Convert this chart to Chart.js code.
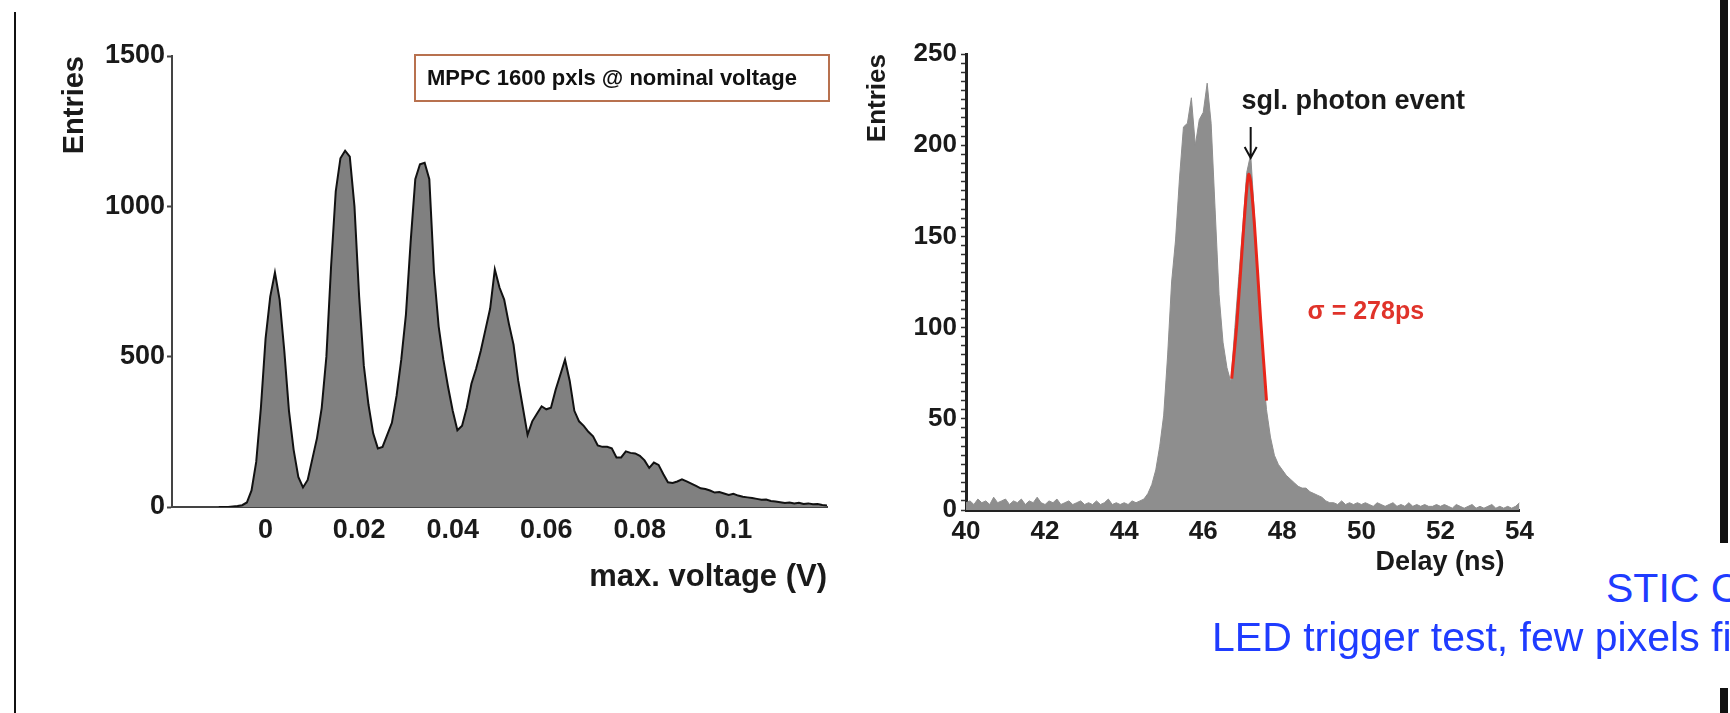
<!DOCTYPE html>
<html>
<head>
<meta charset="utf-8">
<script src="https://cdn.jsdelivr.net/npm/chart.js@4.4.1/dist/chart.umd.min.js"></script>
<style>
  html, body { margin: 0; padding: 0; width: 1730px; height: 713px; overflow: hidden; background: #fff; }
  #volt { position: absolute; left: 40px; top: 30px; }
  #delay { position: absolute; left: 860px; top: 20px; }
  .frame { position: absolute; background: #111; }
  .caption {
    position: absolute; color: #1f3cff; white-space: nowrap;
    font-family: "Liberation Sans", Arial, sans-serif; font-weight: 300;
    font-size: 41px; line-height: 48px;
  }
</style>
</head>
<body>
<div class="frame" style="left:14px; top:12px; width:2px; height:701px;"></div>
<div class="frame" style="left:1720px; top:0; width:8px; height:543px;"></div>
<div class="frame" style="left:1720px; top:688px; width:8px; height:25px;"></div>

<canvas id="volt" width="800" height="590"></canvas>
<canvas id="delay" width="680" height="600"></canvas>

<div class="caption" style="left:1606px; top:564px;">STIC C</div>
<div class="caption" style="left:1212px; top:613px;">LED trigger test, few pixels fi</div>

<script>
// --- left panel: MPPC amplitude spectrum ---
const VOLTAGE = [
  -0.010, -0.009, -0.008, -0.007, -0.006, -0.005, -0.004, -0.003, -0.002, -0.001,
  0.000, 0.001, 0.002, 0.003, 0.004, 0.005, 0.006, 0.007, 0.008, 0.009,
  0.010, 0.011, 0.012, 0.013, 0.014, 0.015, 0.016, 0.017, 0.018, 0.019,
  0.020, 0.021, 0.022, 0.023, 0.024, 0.025, 0.026, 0.027, 0.028, 0.029,
  0.030, 0.031, 0.032, 0.033, 0.034, 0.035, 0.036, 0.037, 0.038, 0.039,
  0.040, 0.041, 0.042, 0.043, 0.044, 0.045, 0.046, 0.047, 0.048, 0.049,
  0.050, 0.051, 0.052, 0.053, 0.054, 0.055, 0.056, 0.057, 0.058, 0.059,
  0.060, 0.061, 0.062, 0.063, 0.064, 0.065, 0.066, 0.067, 0.068, 0.069,
  0.070, 0.071, 0.072, 0.073, 0.074, 0.075, 0.076, 0.077, 0.078, 0.079,
  0.080, 0.081, 0.082, 0.083, 0.084, 0.085, 0.086, 0.087, 0.088, 0.089,
  0.090, 0.091, 0.092, 0.093, 0.094, 0.095, 0.096, 0.097, 0.098, 0.099,
  0.100, 0.101, 0.102, 0.103, 0.104, 0.105, 0.106, 0.107, 0.108, 0.109,
  0.110, 0.111, 0.112, 0.113, 0.114, 0.115, 0.116, 0.117, 0.118, 0.119, 0.120
]
const VOLT_ENTRIES = [
  0, 0, 0, 2, 3, 6, 15, 55, 150, 330,
  560, 700, 780, 690, 520, 320, 190, 100, 65, 90,
  160, 230, 330, 500, 800, 1050, 1160, 1185, 1165, 1000,
  700, 470, 340, 245, 195, 200, 240, 280, 370, 490,
  640, 880, 1090, 1140, 1145, 1090, 780, 600, 490, 400,
  320, 255, 270, 330, 410, 460, 520, 590, 660, 790,
  730, 690, 610, 540, 420, 330, 240, 285, 310, 335,
  325, 330, 390, 440, 490, 420, 320, 285, 270, 250,
  235, 205, 200, 200, 195, 165, 165, 185, 180, 178,
  170, 155, 130, 148, 140, 110, 82, 80, 85, 92,
  85, 78, 70, 62, 60, 55, 48, 50, 45, 40,
  44, 38, 34, 32, 30, 27, 24, 25, 20, 18,
  16, 13, 15, 12, 14, 10, 12, 9, 10, 7, 5
]
const VOLT_X_TICKS = [0, 0.02, 0.04, 0.06, 0.08, 0.1]
const VOLT_Y_TICKS = [0, 500, 1000, 1500]
const VOLT_NOTE = "MPPC 1600 pxls @ nominal voltage"

// --- right panel: delay distribution with single-photon fit ---
const DELAY = [
  40.0, 40.1, 40.2, 40.3, 40.4, 40.5, 40.6, 40.7, 40.8, 40.9,
  41.0, 41.1, 41.2, 41.3, 41.4, 41.5, 41.6, 41.7, 41.8, 41.9,
  42.0, 42.1, 42.2, 42.3, 42.4, 42.5, 42.6, 42.7, 42.8, 42.9,
  43.0, 43.1, 43.2, 43.3, 43.4, 43.5, 43.6, 43.7, 43.8, 43.9,
  44.0, 44.1, 44.2, 44.3, 44.4, 44.5, 44.6, 44.7, 44.8, 44.9,
  45.0, 45.1, 45.2, 45.3, 45.4, 45.5, 45.6, 45.7, 45.8, 45.9,
  46.0, 46.1, 46.2, 46.3, 46.4, 46.5, 46.6, 46.7, 46.8, 46.9,
  47.0, 47.1, 47.2, 47.3, 47.4, 47.5, 47.6, 47.7, 47.8, 47.9,
  48.0, 48.1, 48.2, 48.3, 48.4, 48.5, 48.6, 48.7, 48.8, 48.9,
  49.0, 49.1, 49.2, 49.3, 49.4, 49.5, 49.6, 49.7, 49.8, 49.9,
  50.0, 50.1, 50.2, 50.3, 50.4, 50.5, 50.6, 50.7, 50.8, 50.9,
  51.0, 51.1, 51.2, 51.3, 51.4, 51.5, 51.6, 51.7, 51.8, 51.9,
  52.0, 52.1, 52.2, 52.3, 52.4, 52.5, 52.6, 52.7, 52.8, 52.9,
  53.0, 53.1, 53.2, 53.3, 53.4, 53.5, 53.6, 53.7, 53.8, 53.9, 54.0
]
const DELAY_ENTRIES = [
  4, 5, 3, 6, 4, 5, 3, 7, 4, 5,
  6, 3, 5, 4, 6, 3, 5, 4, 7, 4,
  3, 5, 4, 6, 3, 4, 5, 3, 4, 5,
  3, 4, 3, 5, 3, 4, 6, 3, 4, 3,
  4, 3, 5, 4, 5, 6, 9, 14, 22, 35,
  52, 85, 125, 148, 182, 210, 212, 226, 200, 214,
  218, 234, 212, 165, 118, 92, 78, 70, 100, 128,
  155, 185, 195, 160, 118, 80, 55, 40, 30, 25,
  22, 19, 17, 15, 13, 12, 12, 10, 9, 8,
  7, 5, 4, 4, 3, 5, 3, 4, 3, 4,
  3, 4, 3, 2, 4, 3, 2, 3, 4, 2,
  3, 2, 4, 2, 3, 2, 3, 2, 2, 3,
  2, 3, 2, 1, 3, 2, 1, 2, 3, 1,
  2, 1, 2, 3, 1, 2, 1, 2, 1, 2, 4
]
const FIT_DELAY = [46.72, 46.85, 47.0, 47.1, 47.15, 47.2, 47.3, 47.45, 47.6]
const FIT_ENTRIES = [72, 102, 148, 176, 184, 180, 155, 105, 60]
const DELAY_X_TICKS = [40, 42, 44, 46, 48, 50, 52, 54]
const DELAY_Y_LABELS = [0, 50, 100, 150, 200, 250]
const PHOTON_LABEL = "sgl. photon event"
const SIGMA_LABEL = "\u03c3 = 278ps"

const FONT = '"Liberation Sans", Arial, Helvetica, sans-serif'

function pts(xs, ys) {
  return xs.map((x, i) => ({ x, y: ys[i] }))
}

const voltNote = {
  id: "voltNote",
  afterDraw(chart) {
    const { ctx, chartArea } = chart
    const w = 414
    const h = 46
    const x = chartArea.right + 2 - w
    const y = chartArea.top - 1
    ctx.save()
    ctx.fillStyle = "#fff"
    ctx.fillRect(x, y, w, h)
    ctx.strokeStyle = "#b8714f"
    ctx.lineWidth = 2
    ctx.strokeRect(x, y, w, h)
    ctx.fillStyle = "#111"
    ctx.font = "bold 22px " + FONT
    ctx.textBaseline = "middle"
    ctx.fillText(VOLT_NOTE, x + 12, y + h / 2 + 1)
    ctx.restore()
  },
}

const delayNote = {
  id: "delayNote",
  afterDatasetsDraw(chart) {
    const { ctx } = chart
    const { x, y } = chart.scales
    ctx.save()
    ctx.textBaseline = "middle"
    ctx.fillStyle = "#1a1a1a"
    ctx.font = "bold 27px " + FONT
    ctx.fillText(PHOTON_LABEL, x.getPixelForValue(46.97), y.getPixelForValue(224))

    // arrow pointing at the second peak
    const ax = x.getPixelForValue(47.2)
    const y0 = y.getPixelForValue(210)
    const y1 = y.getPixelForValue(193)
    ctx.strokeStyle = "#111"
    ctx.lineWidth = 2
    ctx.beginPath()
    ctx.moveTo(ax, y0)
    ctx.lineTo(ax, y1)
    ctx.moveTo(ax - 6, y1 - 11)
    ctx.lineTo(ax, y1)
    ctx.lineTo(ax + 6, y1 - 11)
    ctx.stroke()

    ctx.fillStyle = "#e0332a"
    ctx.font = "bold 25px " + FONT
    ctx.fillText(SIGMA_LABEL, x.getPixelForValue(48.64), y.getPixelForValue(108.5))
    ctx.restore()
  },
}

new Chart(document.getElementById("volt"), {
  type: "line",
  data: {
    datasets: [
      {
        data: pts(VOLTAGE, VOLT_ENTRIES),
        borderColor: "#111",
        backgroundColor: "#808080",
        borderWidth: 2,
        fill: "origin",
        pointRadius: 0,
        tension: 0,
      },
    ],
  },
  options: {
    responsive: false,
    animation: false,
    layout: { padding: { top: 26, right: 13, bottom: 0, left: 0 } },
    plugins: { legend: { display: false }, tooltip: { enabled: false } },
    scales: {
      x: {
        type: "linear",
        min: -0.02,
        max: 0.12,
        afterBuildTicks: (s) => { s.ticks = VOLT_X_TICKS.map((v) => ({ value: v })) },
        afterFit: (s) => { s.height = 113 },
        grid: { display: false, drawTicks: false },
        border: { color: "#444", width: 2 },
        ticks: {
          autoSkip: false,
          maxRotation: 0,
          padding: 7,
          color: "#1a1a1a",
          font: { family: FONT, size: 27, weight: "bold" },
          callback: (v) => String(+v.toFixed(2)),
        },
        title: {
          display: true,
          text: "max. voltage (V)",
          align: "end",
          color: "#1a1a1a",
          font: { family: FONT, size: 31, weight: "bold" },
          padding: { top: 0, bottom: 24 },
        },
      },
      y: {
        min: 0,
        max: 1500,
        afterBuildTicks: (s) => { s.ticks = VOLT_Y_TICKS.map((v) => ({ value: v })) },
        afterFit: (s) => { s.width = 132 },
        grid: { drawOnChartArea: false, tickLength: 5, color: "#444", tickWidth: 2 },
        border: { color: "#444", width: 2 },
        ticks: {
          padding: 2,
          color: "#1a1a1a",
          font: { family: FONT, size: 27, weight: "bold" },
          callback: (v) => String(v),
        },
        title: {
          display: true,
          text: "Entries",
          align: "end",
          color: "#1a1a1a",
          font: { family: FONT, size: 29, weight: "bold" },
          padding: { top: 18, bottom: 0 },
        },
      },
    },
  },
  plugins: [voltNote],
})

new Chart(document.getElementById("delay"), {
  type: "line",
  data: {
    datasets: [
      {
        data: pts(DELAY, DELAY_ENTRIES),
        borderColor: "#8e8e8e",
        backgroundColor: "#8e8e8e",
        borderWidth: 1,
        fill: "origin",
        pointRadius: 0,
        tension: 0,
        order: 2,
      },
      {
        data: pts(FIT_DELAY, FIT_ENTRIES),
        borderColor: "#e8261a",
        borderWidth: 3,
        fill: false,
        pointRadius: 0,
        tension: 0.3,
        order: 1,
      },
    ],
  },
  options: {
    responsive: false,
    animation: false,
    layout: { padding: { top: 34, right: 16, bottom: 0, left: 0 } },
    plugins: { legend: { display: false }, tooltip: { enabled: false } },
    scales: {
      x: {
        type: "linear",
        min: 40,
        max: 54,
        afterBuildTicks: (s) => { s.ticks = DELAY_X_TICKS.map((v) => ({ value: v })) },
        afterFit: (s) => { s.height = 110 },
        grid: { display: false, drawTicks: false },
        border: { color: "#222", width: 3 },
        ticks: {
          autoSkip: false,
          maxRotation: 0,
          padding: 6,
          color: "#1a1a1a",
          font: { family: FONT, size: 26, weight: "bold" },
        },
        title: {
          display: true,
          text: "Delay (ns)\u00a0\u00a0",
          align: "end",
          color: "#1a1a1a",
          font: { family: FONT, size: 27, weight: "bold" },
          padding: { top: 0, bottom: 41 },
        },
      },
      y: {
        min: 0,
        max: 250,
        afterBuildTicks: (s) => {
          const t = []
          for (let v = 0; v <= 250; v += 5) t.push({ value: v })
          s.ticks = t
        },
        afterFit: (s) => { s.width = 106 },
        grid: { drawOnChartArea: false, tickLength: 5, color: "#333", tickWidth: 1.5 },
        border: { color: "#222", width: 3 },
        ticks: {
          autoSkip: false,
          padding: 4,
          color: "#1a1a1a",
          font: { family: FONT, size: 26, weight: "bold" },
          callback: (v) => (DELAY_Y_LABELS.includes(v) ? String(v) : ""),
        },
        title: {
          display: true,
          text: "Entries",
          align: "end",
          color: "#1a1a1a",
          font: { family: FONT, size: 26, weight: "bold" },
          padding: { top: 2, bottom: 0 },
        },
      },
    },
  },
  plugins: [delayNote],
})
</script>
</body>
</html>
